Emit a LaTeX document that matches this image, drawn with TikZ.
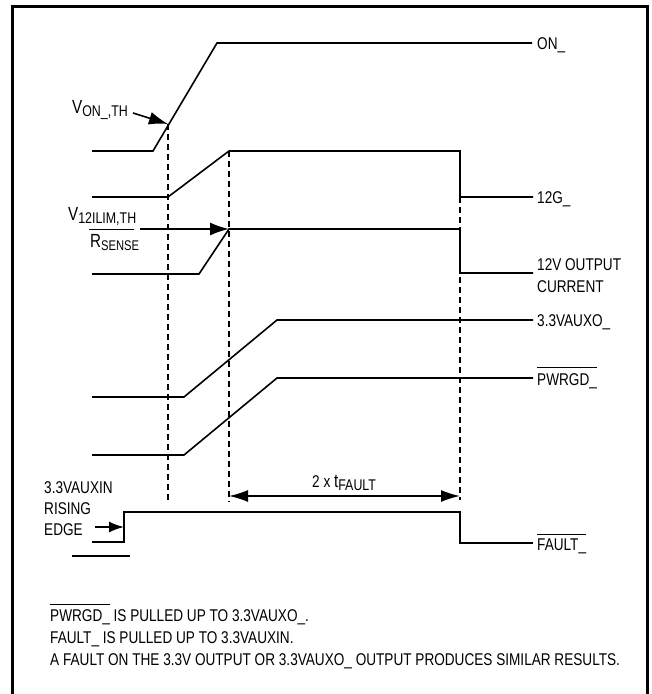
\documentclass[tikz,border=0pt]{standalone}
\usepackage{fontspec}
\setmainfont[FakeStretch=0.8]{Liberation Sans}
\usetikzlibrary{arrows.meta}
\newcommand\myovl[2][4pt]{\vbox{\hrule height 1pt\kern #1\hbox{#2}}}
\newcommand\mysub[2][15.5]{\raisebox{-3pt}{\fontsize{#1}{17}\selectfont #2}}
\newcommand\bigv[1]{{\fontsize{19}{21}\selectfont #1}}
\begin{document}
\begin{tikzpicture}[x=1pt,y=-1pt,
  sig/.style={line width=1.6pt, line join=miter},
  dsh/.style={line width=1.2pt, dash pattern=on 6pt off 4pt},
  arr/.style={line width=1.6pt, -{Latex[length=19pt,width=13pt]}},
  lbl/.style={anchor=base west, inner sep=0pt, font=\fontsize{17}{20}\selectfont},
  ]
\useasboundingbox (0,0) rectangle (652,694);
\draw[line width=3pt] (12,700) -- (12,6) -- (647,6) -- (647,700);

% dashed time markers
\draw[dsh] (168,124) -- (168,502);
\draw[dsh] (229,151) -- (229,502);
\draw[dsh] (460,197) -- (460,500);

% ON_
\draw[sig] (92,151) -- (153,151) -- (217,43) -- (532,43);
\node[lbl] (lon) at (537,49) {ON\_};
\coordinate (von) at (168,124);
\coordinate (vonstart) at (133,113);
\node[lbl] (vonlbl) at (72,113) {\bigv{V}\mysub{ON\_,TH}};
\draw[arr] (vonstart) -- (von);

% 12G_
\draw[sig] (92,197) -- (168,197) -- (229,151) -- (460,151) -- (460,197) -- (533,197);
\node[lbl] (l12g) at (537,203) {12G\_};

% 12V output current
\draw[sig] (92,274) -- (199,274) -- (229,229) -- (460,229) -- (460,273) -- (533,273);
\node[lbl] (l12v) at (537,270) {12V OUTPUT};
\node[lbl] (l12v2) at (537,292) {CURRENT};
\node[lbl] (fnum) at (68,220) {\bigv{V}\mysub{12ILIM,TH}};
\draw[line width=1pt] (89,229) -- (134,229);
\node[lbl] (fden) at (90,247) {\bigv{R}\mysub[14]{SENSE}};
\coordinate (ilim) at (229,229);
\coordinate (ilimstart) at (140,229);
\draw[arr] (ilimstart) -- (ilim);

% 3.3VAUXO_
\draw[sig] (92,397) -- (184,397) -- (277,320) -- (533,320);
\node[lbl] (laux) at (537,326) {3.3VAUXO\_};

% PWRGD_
\draw[sig] (92,455) -- (184,455) -- (277,378) -- (533,378);
\node[lbl] (lpw) at (537,385) {\myovl[5pt]{PWRGD\_}};

% 2 x tFAULT
\coordinate (tfa) at (229,496);
\coordinate (tfb) at (460,496);
\draw[line width=1.6pt, {Latex[length=19pt,width=12pt]}-{Latex[length=19pt,width=12pt]}] (tfa) -- (tfb);
\node[lbl] (tf) at (312,487) {2 x \bigv{t}\mysub{FAULT}};

% FAULT_
\draw[sig] (92,542) -- (124,542) -- (124,512) -- (460,512) -- (460,543) -- (533,543);
\draw[sig] (72,556) -- (130,556);
\node[lbl] (lfa) at (537,550) {\myovl[3pt]{FAULT\_}};
\node[lbl] (lin1) at (44,493) {3.3VAUXIN};
\node[lbl] (lin2) at (44,514) {RISING};
\node[lbl] (lin3) at (44,535) {EDGE};
\coordinate (edge) at (124,527);
\coordinate (edgestart) at (95,527);
\draw[line width=1.6pt, -{Latex[length=15pt,width=11pt]}] (edgestart) -- (edge);

% notes
\node[lbl] (n1) at (50,621) {\myovl[4pt]{PWRGD\_} IS PULLED UP TO 3.3VAUXO\_.};
\node[lbl] (n2) at (50,643) {FAULT\_ IS PULLED UP TO 3.3VAUXIN.};
\node[lbl] (n3) at (50,665) {A FAULT ON THE 3.3V OUTPUT OR 3.3VAUXO\_ OUTPUT PRODUCES SIMILAR RESULTS.};
\end{tikzpicture}
\end{document}
